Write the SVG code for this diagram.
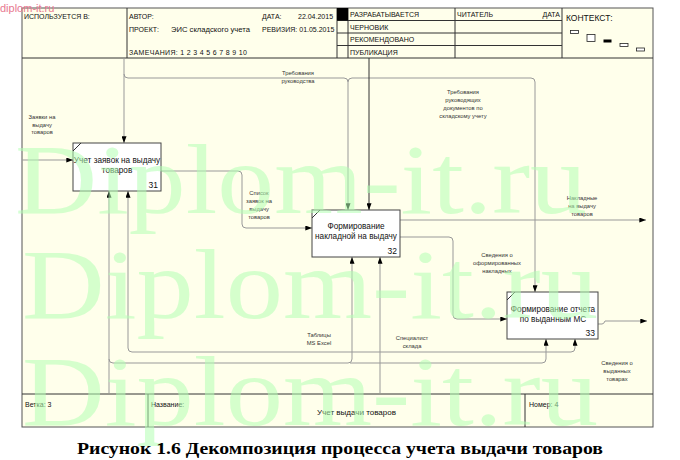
<svg xmlns="http://www.w3.org/2000/svg" width="680" height="460" viewBox="0 0 680 460">
<defs>
<marker id="ah" viewBox="0 0 8 6" refX="8" refY="3" markerWidth="7" markerHeight="5" markerUnits="userSpaceOnUse" orient="auto">
<path d="M0,0 L8,3 L0,6 Z" fill="#000"/>
</marker>
<style>
.hd{font-family:"Liberation Sans",Arial,sans-serif;font-size:7px;fill:#111}
.nt{font-family:"Liberation Sans",Arial,sans-serif;font-size:8.2px;fill:#111;text-anchor:middle}
.nn{font-family:"Liberation Sans",Arial,sans-serif;font-size:8.5px;fill:#111;text-anchor:end}
.lb{font-family:"Liberation Sans",Arial,sans-serif;font-size:5.8px;fill:#333;text-anchor:middle}
.box{fill:#fff;stroke:#444;stroke-width:1}
.cn{fill:none;stroke:#999;stroke-width:1}
.cd{fill:none;stroke:#333;stroke-width:1}
.ln{stroke:#333;stroke-width:1;fill:none}
.wm{font-family:"Liberation Serif","Times New Roman",serif;font-size:100px;fill:#b4ffb4;opacity:0.55}
</style>
</defs>
<rect width="680" height="460" fill="#fff"/>
<g id="frame">
<rect x="22" y="8" width="631" height="419" fill="#ffffeb" stroke="#555" stroke-width="1"/>
<line class="ln" x1="22" y1="58" x2="653" y2="58"/>
<line class="ln" x1="127" y1="8" x2="127" y2="58"/>
<line class="ln" x1="337" y1="8" x2="337" y2="58"/>
<line class="ln" x1="348" y1="8" x2="348" y2="58"/>
<line class="ln" x1="455" y1="8" x2="455" y2="58"/>
<line class="ln" x1="562" y1="8" x2="562" y2="58"/>
<line class="ln" x1="337" y1="20.5" x2="562" y2="20.5"/>
<line class="ln" x1="337" y1="33" x2="562" y2="33"/>
<line class="ln" x1="337" y1="45.5" x2="562" y2="45.5"/>
<rect x="337" y="8" width="11" height="12.5" fill="#000"/>
<text class="hd" x="24" y="19">ИСПОЛЬЗУЕТСЯ В:</text>
<text class="hd" x="129" y="19">АВТОР:</text>
<text class="hd" x="262" y="19">ДАТА:</text>
<text class="hd" x="298" y="19">22.04.2015</text>
<text class="hd" x="129" y="32">ПРОЕКТ:</text>
<text class="hd" x="171" y="32" textLength="79" lengthAdjust="spacingAndGlyphs">ЭИС складского учета</text>
<text class="hd" x="262" y="32">РЕВИЗИЯ: 01.05.2015</text>
<text class="hd" x="129" y="55" textLength="118" lengthAdjust="spacing">ЗАМЕЧАНИЯ: 1 2 3 4 5 6 7 8 9 10</text>
<text class="hd" x="350" y="17">РАЗРАБАТЫВАЕТСЯ</text>
<text class="hd" x="350" y="29.5">ЧЕРНОВИК</text>
<text class="hd" x="350" y="42">РЕКОМЕНДОВАНО</text>
<text class="hd" x="350" y="54.5">ПУБЛИКАЦИЯ</text>
<text class="hd" x="457" y="17">ЧИТАТЕЛЬ</text>
<text class="hd" x="560" y="17" text-anchor="end">ДАТА</text>
<text class="hd" x="566" y="21" style="font-size:8.5px">КОНТЕКСТ:</text>
<rect x="570.5" y="30.5" width="8" height="3" fill="#fff" stroke="#222" stroke-width="0.8"/>
<rect x="587" y="34.5" width="8" height="7" fill="#fff" stroke="#222" stroke-width="0.8"/>
<rect x="603.5" y="39.5" width="8" height="3" fill="#000"/>
<rect x="620" y="43.5" width="8" height="3" fill="#fff" stroke="#222" stroke-width="0.8"/>
<rect x="636.5" y="48" width="8" height="3" fill="#fff" stroke="#222" stroke-width="0.8"/>
<line class="ln" x1="22" y1="394" x2="653" y2="394"/>
<line class="ln" x1="148" y1="394" x2="148" y2="427"/>
<line class="ln" x1="525" y1="394" x2="525" y2="427"/>
<text class="hd" x="25" y="407">Ветка: 3</text>
<text class="hd" x="151" y="407">Название:</text>
<text class="hd" x="356.5" y="415" text-anchor="middle" style="font-size:8px">Учет выдачи товаров</text>
<text class="hd" x="529" y="407">Номер: 4</text>
</g>
<g id="connectors">
<path class="cn" d="M22,160 H73" marker-end="url(#ah)"/>
<path class="cn" d="M124,58 V143" marker-end="url(#ah)"/>
<path class="cn" d="M124,74 Q124,78 128,78 H344 Q348,78 348,82 V210" marker-end="url(#ah)"/>
<path class="cn" d="M348,82 Q348,78 352,78 H531 Q535,78 535,82 V292" marker-end="url(#ah)"/>
<path class="cd" d="M369,58 V210" marker-end="url(#ah)"/>
<path class="cn" d="M161,171 H238 Q242,171 242,175 V224 Q242,228 246,228 H312" marker-end="url(#ah)"/>
<path class="cn" d="M400,220 H646" marker-end="url(#ah)"/>
<path class="cn" d="M400,237 H449 Q453,237 453,241 V315 Q453,319 457,319 H507" marker-end="url(#ah)"/>
<path class="cn" d="M598,324 H602 Q604,324 605,321 H647" marker-end="url(#ah)"/>
<path class="cn" d="M109,393 V191" marker-end="url(#ah)"/>
<path class="cn" d="M109,359 Q109,363 113,363 H348 Q352,363 352,359 V257" marker-end="url(#ah)"/>
<path class="cn" d="M350,363 H542 Q546,363 546,359 V339" marker-end="url(#ah)"/>
<path class="cn" d="M380,393 V257" marker-end="url(#ah)"/>
<path class="cn" d="M380,352 H132 Q128,352 128,348 V191" marker-end="url(#ah)"/>
<path class="cn" d="M380,352 H571 Q575,352 575,348 V339" marker-end="url(#ah)"/>
<text class="lb" x="42" y="119">Заявки на</text>
<text class="lb" x="42" y="126.5">выдачу</text>
<text class="lb" x="42" y="134">товаров</text>
<text class="lb" x="298" y="75">Требования</text>
<text class="lb" x="298" y="83">руководства</text>
<text class="lb" x="463" y="94">Требования</text>
<text class="lb" x="463" y="102">руководящих</text>
<text class="lb" x="463" y="110">документов по</text>
<text class="lb" x="463" y="118">складскому учету</text>
<text class="lb" x="259" y="195">Список</text>
<text class="lb" x="259" y="203">заявок на</text>
<text class="lb" x="259" y="211">выдачу</text>
<text class="lb" x="259" y="219">товаров</text>
<text class="lb" x="582" y="200">Накладные</text>
<text class="lb" x="582" y="208">на выдачу</text>
<text class="lb" x="582" y="216">товаров</text>
<text class="lb" x="497" y="257">Сведения о</text>
<text class="lb" x="497" y="265">оформированных</text>
<text class="lb" x="497" y="273">накладных</text>
<text class="lb" x="319" y="337">Таблицы</text>
<text class="lb" x="319" y="345">MS Excel</text>
<text class="lb" x="412" y="340">Специалист</text>
<text class="lb" x="412" y="348">склада</text>
<text class="lb" x="617" y="365">Сведения о</text>
<text class="lb" x="617" y="373">выданных</text>
<text class="lb" x="617" y="381">товарах</text>
</g>
<g id="node31">
<rect class="box" x="73" y="143" width="88" height="48"/>
<line class="ln" x1="73" y1="151" x2="81" y2="143" stroke-width="0.7"/>
<text class="nt" x="117" y="163">Учет заявок на выдачу</text>
<text class="nt" x="117" y="172.5">товаров</text>
<text class="nn" x="158" y="188">31</text>
</g>
<g id="node32">
<rect class="box" x="312" y="210" width="88" height="47"/>
<line class="ln" x1="312" y1="218" x2="320" y2="210" stroke-width="0.7"/>
<text class="nt" x="356" y="228.5">Формирование</text>
<text class="nt" x="356" y="239">накладной на выдачу</text>
<text class="nn" x="397" y="254">32</text>
</g>
<g id="node33">
<rect class="box" x="507" y="292" width="91" height="47"/>
<line class="ln" x1="507" y1="300" x2="515" y2="292" stroke-width="0.7"/>
<text class="nt" x="553" y="312">Формирование отчета</text>
<text class="nt" x="553" y="321.5">по выданным МС</text>
<text class="nn" x="595" y="336">33</text>
</g>
<g id="watermark">
<text class="wm" x="15" y="213" textLength="572" lengthAdjust="spacingAndGlyphs">Diplom-it.ru</text>
<text class="wm" x="22" y="318" textLength="576" lengthAdjust="spacingAndGlyphs">Diplom-it.ru</text>
<text class="wm" x="22" y="425" textLength="576" lengthAdjust="spacingAndGlyphs">Diplom-it.ru</text>
<text x="0" y="12" style="font-family:'Liberation Sans',Arial,sans-serif;font-size:11px;fill:#e87890">diplom-it.ru</text>
</g>
<text x="340" y="454" text-anchor="middle" textLength="526" lengthAdjust="spacingAndGlyphs" style="font-family:'Liberation Serif','Times New Roman',serif;font-size:16px;font-weight:bold;fill:#000">Рисунок 1.6 Декомпозиция процесса учета выдачи товаров</text>
</svg>
